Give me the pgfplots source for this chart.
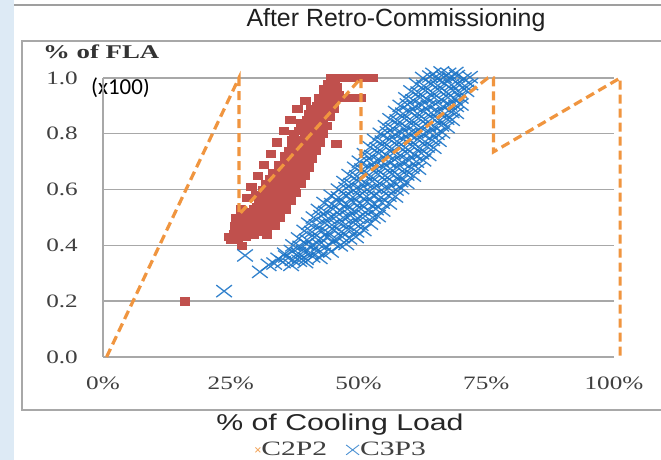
\documentclass[border=0pt]{standalone}
\usepackage{pgfplots}
\pgfplotsset{compat=1.18}
\usepackage{fontspec}
\setmainfont{Liberation Serif}
\newfontfamily\tickfont[FakeStretch=1.33]{Liberation Serif}
\newfontfamily\legfont[FakeStretch=1.45]{Liberation Serif}
\newfontfamily\boldserif[FakeStretch=1.38]{Liberation Serif Bold}
\newfontfamily\labfont[FakeStretch=1.32]{Liberation Sans}
\newfontfamily\titlefont{Liberation Sans}
\newfontfamily\calib{Carlito}
\definecolor{redpt}{RGB}{192,80,77}
\definecolor{bluept}{RGB}{30,118,200}
\definecolor{orln}{RGB}{240,149,63}
\definecolor{gridc}{RGB}{168,168,168}
\definecolor{txtc}{RGB}{64,64,64}
\definecolor{stripc}{RGB}{221,234,245}
\begin{document}
\begin{tikzpicture}[x=1bp,y=1bp]
\useasboundingbox (0,0) rectangle (661,460);
\fill[white] (0,0) rectangle (661,460);
\fill[stripc] (0,0) rectangle (14,460);
\draw[gray!75, line width=2bp] (14,455) -- (665,455);
\draw[gridc, line width=1.5bp] (22,50) rectangle (670,419);
\node[font=\titlefont\fontsize{25}{25}\selectfont, text=black!88] at (396,440) {After Retro-Commissioning};
\node[font=\labfont\fontsize{23}{23}\selectfont, text=black!85] at (340,35) {\% of Cooling Load};
\node[font=\boldserif\fontsize{19.5}{19.5}\selectfont, text=black!80, anchor=west, inner sep=0pt] at (43,408) {\% of FLA};
\node[font=\calib\fontsize{23}{23}\selectfont, text=black, anchor=west, inner sep=0pt] at (91,372) {(x100)};
\begin{axis}[
  at={(103bp,103bp)}, anchor=south west,
  scale only axis, width=511bp, height=279bp,
  xmin=0, xmax=100, ymin=0, ymax=1,
  enlargelimits=false, clip=false, clip marker paths=true,
  axis lines=left, axis line style={-, gridc, line width=1.4bp},
  ymajorgrids, major grid style={gridc, line width=1.4bp},
  major tick length=0pt,
  xtick={0,25,50,75,100}, xticklabels={0\%,25\%,50\%,75\%,100\%},
  ytick={0,0.2,0.4,0.6,0.8,1.0}, yticklabels={0.0,0.2,0.4,0.6,0.8,1.0},
  xticklabel style={font=\tickfont\fontsize{19}{19}\selectfont, text=txtc, anchor=north, inner sep=0pt, yshift=-20bp},
  yticklabel style={font=\tickfont\fontsize{19}{19}\selectfont, text=txtc, anchor=east, inner sep=0pt, xshift=-25bp},
  legend style={font=\legfont\fontsize{20.5}{20.5}\selectfont, text=txtc, draw=none, fill=none,
    inner sep=0pt, nodes={inner sep=1bp},
    legend columns=2, at={(axis description cs:0.466,-0.333)}, anchor=center,
    /tikz/every even column/.append style={column sep=18bp}},
]
% C2P2 red squares
\addplot[only marks, mark=square*, mark size=3.6bp, color=redpt, mark options={xscale=1.3, draw=redpt, fill=redpt}, forget plot] coordinates {
(16.0,0.20) (27.2,0.40) (25.0,0.42) (26.3,0.42) (24.6,0.43) (27.8,0.43)
(25.7,0.44) (28.6,0.44) (29.4,0.44) (26.5,0.45) (27.9,0.45) (30.6,0.45)
(27.1,0.46) (28.8,0.46) (31.5,0.46) (25.9,0.47) (29.9,0.47) (32.2,0.47)
(27.5,0.48) (28.3,0.48) (30.8,0.48) (28.9,0.49) (31.6,0.49) (33.1,0.49)
(27.9,0.50) (29.6,0.50) (32.0,0.50) (30.3,0.51) (31.2,0.51) (34.2,0.51)
(28.8,0.52) (32.6,0.52) (33.6,0.52) (29.6,0.53) (31.0,0.53) (34.6,0.53)
(30.1,0.54) (32.2,0.54) (35.0,0.54) (31.2,0.55) (33.4,0.55) (34.1,0.55)
(30.6,0.56) (32.8,0.56) (35.6,0.56) (31.6,0.57) (34.3,0.57) (36.1,0.57)
(30.0,0.58) (33.1,0.58) (35.1,0.58) (32.4,0.59) (34.8,0.59) (36.8,0.59)
(31.3,0.60) (33.6,0.60) (37.4,0.60) (32.9,0.61) (35.6,0.61) (36.4,0.61)
(31.9,0.62) (34.2,0.62) (37.8,0.62) (33.5,0.63) (35.0,0.63) (36.9,0.63)
(32.6,0.64) (36.2,0.64) (38.3,0.64) (34.0,0.65) (35.4,0.65) (37.6,0.65)
(33.3,0.66) (36.6,0.66) (38.7,0.66) (34.6,0.67) (37.3,0.67)
(35.3,0.68) (36.0,0.68) (39.0,0.68) (34.4,0.69) (37.7,0.69)
(35.8,0.70) (38.4,0.70) (39.3,0.70) (36.5,0.71) (37.1,0.71)
(35.5,0.72) (38.8,0.72) (39.7,0.72) (37.4,0.73) (40.1,0.73)
(36.3,0.74) (38.2,0.74) (37.0,0.75) (39.3,0.75) (40.6,0.75)
(38.5,0.76) (40.9,0.76) (37.6,0.77) (39.8,0.77) (45.6,0.765)
(36.9,0.78) (38.9,0.78) (41.3,0.78) (39.5,0.79) (40.4,0.79)
(37.3,0.80) (41.1,0.80) (42.0,0.80) (38.3,0.81) (40.0,0.81)
(39.0,0.82) (41.7,0.82) (42.6,0.82) (40.5,0.83) (42.3,0.83)
(38.7,0.84) (41.3,0.84) (39.9,0.85) (42.1,0.85) (43.0,0.85)
(41.0,0.86) (42.8,0.86) (40.3,0.87) (43.3,0.87) (41.6,0.88) (42.4,0.88)
(40.7,0.89) (43.6,0.89) (41.9,0.90) (43.0,0.90) (44.2,0.90)
(42.6,0.91) (44.5,0.91) (43.4,0.92) (44.9,0.92)
(42.2,0.93) (45.4,0.93) (47.0,0.93) (48.5,0.93) (50.3,0.93)
(43.8,0.94) (46.1,0.94) (44.3,0.95) (45.0,0.95) (43.2,0.96) (44.8,0.96)
(44.7,0.97) (45.6,0.97) (44.0,0.98) (45.3,0.98) (45.0,0.99)
(44.6,1.00) (45.8,1.00) (47.0,1.00) (48.2,1.00) (49.4,1.00) (50.6,1.00) (51.7,1.00) (52.8,1.00)
(32.0,0.44) (33.5,0.47) (34.6,0.50) (35.8,0.53) (36.6,0.56) (37.6,0.59) (38.6,0.62) (39.4,0.65)
(40.2,0.68) (40.8,0.71) (41.6,0.74) (42.3,0.77) (43.0,0.80) (43.8,0.83) (44.4,0.86) (45.2,0.89)
(26.0,0.50) (27.0,0.53) (28.2,0.57) (29.0,0.61) (30.3,0.65) (31.5,0.69) (32.8,0.73) (34.0,0.77)
(35.4,0.81) (36.6,0.85) (38.0,0.89) (39.6,0.92)
};
% C3P3 blue crosses
\addplot[only marks, mark=x, mark size=8.5bp, color=bluept, mark options={xscale=1.3, line width=1.3bp, draw=bluept, draw opacity=0.9}, forget plot] coordinates {
(23.7,0.236) (27.8,0.364) (30.7,0.305) (32.4,0.33)
(33.5,0.335) (35.2,0.34) (36.8,0.33) (38.4,0.345) (39.6,0.34)
(34.3,0.352) (35.8,0.36) (37.1,0.348) (38.5,0.357) (39.7,0.352) (41.0,0.36) (42.4,0.355)
(35.6,0.37) (36.9,0.38) (38.2,0.372) (39.3,0.378) (40.6,0.374) (41.8,0.38) (43.1,0.37) (44.6,0.378)
(37.2,0.40) (38.6,0.395) (39.8,0.405) (41.1,0.398) (42.3,0.403) (43.7,0.395) (45.0,0.41) (46.4,0.40) (47.6,0.405)
(38.3,0.425) (39.9,0.42) (41.4,0.43) (42.6,0.425) (43.9,0.43) (45.3,0.42) (46.8,0.43) (48.2,0.425) (49.5,0.43)
(39.4,0.452) (40.9,0.448) (42.5,0.455) (44.0,0.447) (45.2,0.455) (46.7,0.45) (48.1,0.458) (49.6,0.45) (51.0,0.455)
(40.3,0.478) (41.8,0.472) (43.4,0.48) (44.8,0.473) (46.2,0.48) (47.5,0.475) (49.0,0.482) (50.4,0.474) (52.3,0.478)
(41.2,0.50) (42.7,0.505) (44.1,0.497) (45.6,0.503) (47.0,0.50) (48.4,0.507) (49.8,0.498) (51.3,0.505) (52.8,0.50) (53.8,0.505)
(42.2,0.527) (43.6,0.52) (45.0,0.53) (46.4,0.525) (47.8,0.53) (49.1,0.522) (50.5,0.53) (51.9,0.525) (53.4,0.53) (54.7,0.525)
(43.3,0.552) (44.8,0.548) (46.2,0.555) (47.6,0.547) (49.0,0.555) (50.3,0.55) (51.7,0.556) (53.1,0.548) (54.6,0.553) (56.0,0.55)
(44.7,0.578) (46.1,0.572) (47.5,0.58) (48.9,0.573) (50.2,0.58) (51.6,0.575) (53.0,0.58) (54.4,0.572) (55.9,0.578) (57.2,0.575)
(46.1,0.60) (47.6,0.605) (49.0,0.597) (50.4,0.603) (51.7,0.60) (53.1,0.607) (54.5,0.598) (55.9,0.605) (57.3,0.60) (58.4,0.605)
(47.2,0.627) (48.6,0.62) (50.0,0.63) (51.3,0.624) (52.7,0.63) (54.1,0.622) (55.5,0.63) (56.9,0.625) (58.2,0.63) (59.4,0.624)
(48.2,0.652) (49.7,0.648) (51.1,0.655) (52.4,0.647) (53.8,0.655) (55.2,0.65) (56.6,0.656) (58.0,0.648) (59.4,0.654) (60.7,0.65)
(49.3,0.678) (50.7,0.672) (52.1,0.68) (53.5,0.673) (54.9,0.68) (56.2,0.675) (57.6,0.68) (59.0,0.672) (60.4,0.678) (61.7,0.675)
(50.2,0.70) (51.6,0.705) (53.0,0.697) (54.4,0.703) (55.8,0.70) (57.1,0.707) (58.5,0.698) (59.9,0.705) (61.3,0.70) (62.7,0.705)
(51.2,0.727) (52.6,0.72) (54.0,0.73) (55.4,0.724) (56.8,0.73) (58.1,0.722) (59.5,0.73) (60.9,0.725) (62.3,0.73) (63.7,0.724)
(52.3,0.752) (53.7,0.748) (55.1,0.755) (56.5,0.747) (57.9,0.755) (59.2,0.75) (60.6,0.756) (62.0,0.748) (63.4,0.754) (64.7,0.75)
(53.2,0.778) (54.7,0.772) (56.1,0.78) (57.5,0.773) (58.8,0.78) (60.2,0.775) (61.6,0.78) (63.0,0.772) (64.4,0.778) (65.7,0.775)
(54.3,0.80) (55.7,0.805) (57.1,0.797) (58.5,0.803) (59.8,0.80) (61.2,0.807) (62.6,0.798) (64.0,0.805) (65.3,0.80) (66.4,0.805)
(55.3,0.827) (56.7,0.82) (58.1,0.83) (59.4,0.824) (60.8,0.83) (62.2,0.822) (63.6,0.83) (64.9,0.825) (66.2,0.83) (67.3,0.824)
(56.2,0.852) (57.6,0.848) (59.0,0.855) (60.4,0.847) (61.8,0.855) (63.1,0.85) (64.5,0.856) (65.9,0.848) (67.2,0.854) (68.3,0.85)
(57.3,0.878) (58.7,0.872) (60.1,0.88) (61.5,0.873) (62.8,0.88) (64.2,0.875) (65.6,0.88) (66.9,0.872) (68.2,0.878) (69.1,0.875)
(58.2,0.90) (59.6,0.905) (61.0,0.897) (62.4,0.903) (63.7,0.90) (65.1,0.907) (66.5,0.898) (67.8,0.905) (69.1,0.90) (70.0,0.905)
(59.3,0.927) (60.7,0.92) (62.1,0.93) (63.4,0.924) (64.8,0.93) (66.2,0.922) (67.5,0.93) (68.8,0.925) (70.0,0.93)
(60.3,0.952) (61.7,0.948) (63.1,0.955) (64.5,0.947) (65.8,0.955) (67.2,0.95) (68.5,0.956) (69.8,0.948) (71.1,0.954)
(61.4,0.978) (62.8,0.972) (64.2,0.98) (65.5,0.973) (66.9,0.98) (68.2,0.975) (69.5,0.98) (70.8,0.972) (71.9,0.978)
(62.6,1.0) (64.0,1.005) (65.4,0.997) (66.7,1.003) (68.0,1.0) (69.3,1.007) (70.6,0.998) (71.8,1.003)
(64.6,1.015) (66.2,1.02) (67.6,1.015) (69.0,1.018)
};
% orange dashed reference line
\addplot[orln, line width=3.2bp, dash pattern=on 9bp off 5bp, forget plot] coordinates {
(0.7,0) (26.6,1.0) (26.6,0.51) (50.5,1.0) (50.5,0.64) (75.3,1.0) (76.4,1.0) (76.4,0.735) (101.2,1.0) (101.2,0)
};
\addlegendimage{only marks, mark=x, mark size=3.5bp, color=orln!80, mark options={line width=0.8bp}}
\addlegendentry{C2P2}
\addlegendimage{only marks, mark=x, mark size=7bp, color=bluept!80, mark options={xscale=1.3, line width=0.9bp}}
\addlegendentry{C3P3}
\end{axis}
\end{tikzpicture}
\end{document}
